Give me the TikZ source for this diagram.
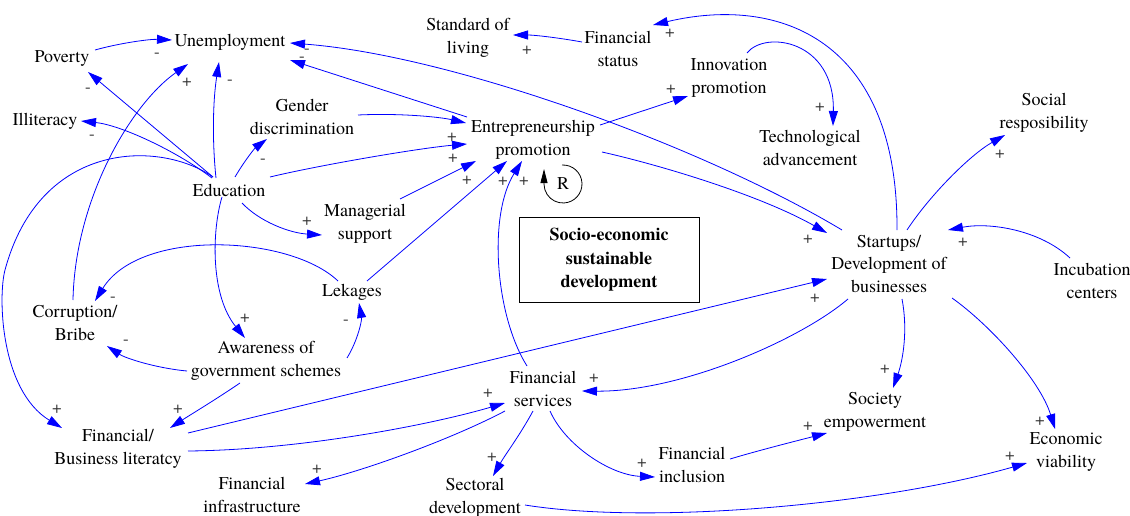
\documentclass[tikz,border=0pt]{standalone}
\usepackage{fontspec}
\setmainfont{texgyretermes}[Extension=.otf,UprightFont=*-regular,BoldFont=*-bold,ItalicFont=*-italic,BoldItalicFont=*-bolditalic]
\usetikzlibrary{arrows.meta,calc}
\begin{document}
\begin{tikzpicture}[x=1pt,y=-1pt,
  lbl/.style={font=\fontsize{18}{22.5}\selectfont, align=center, inner sep=1pt},
  pol/.style={font=\fontsize{17}{17}\selectfont, text=black!80, inner sep=0pt},
  cl/.style={draw=blue, line width=0.8pt, -{Triangle[length=15pt,width=9pt]}},
  boxst/.style={draw, line width=0.8pt, minimum width=180pt, minimum height=85pt, align=center, inner sep=0pt, font=\fontsize{18}{23.5}\selectfont\bfseries}
]
\useasboundingbox (0,0) rectangle (1130,516);
\fill[white] (0,0) rectangle (1130,516);

% nodes
\node[lbl] (un)  at (230,42)  {Unemployment};
\node[lbl] (pov) at (62,59)   {Poverty};
\node[lbl] (ill) at (45,121)  {Illiteracy};
\node[lbl] (gen) at (302,117) {Gender\\discrimination};
\node[lbl] (edu) at (229,190) {Education};
\node[lbl] (man) at (365,224) {Managerial\\support};
\node[lbl] (ent) at (533,140) {Entrepreneurship\\promotion};
\node[lbl] (sol) at (468,38)  {Standard of\\living};
\node[lbl] (fst) at (618,49)  {Financial\\status};
\node[lbl] (inn) at (729,78)  {Innovation\\promotion};
\node[lbl] (tec) at (810,148) {Technological\\advancement};
\node[lbl] (soc) at (1044,113) {Social\\resposibility};
\node[lbl] (stu) at (889,264) {Startups/\\Development of\\businesses};
\node[lbl] (inc) at (1092,281) {Incubation\\centers};
\node[lbl] (lek) at (352,292) {Lekages};
\node[lbl] (cor) at (75,323)  {Corruption/\\Bribe};
\node[lbl] (awa) at (266,361) {Awareness of\\government schemes};
\node[lbl] (fli) at (118,449) {Financial/\\Business literatcy};
\node[lbl] (fin) at (252,495) {Financial\\infrastructure};
\node[lbl] (fse) at (543,389) {Financial\\services};
\node[lbl] (sec) at (475,498) {Sectoral\\development};
\node[lbl] (fic) at (692,465) {Financial\\inclusion};
\node[lbl] (sem) at (875,412) {Society\\empowerment};
\node[lbl] (eco) at (1066,452) {Economic\\viability};
\node[boxst] (box) at (609,260) {Socio-economic\\sustainable\\development};

% connectors
\draw[cl] ($(pov)+(33,-9)$) .. controls (120,43) and (150,39) .. ($(un)+(-58,-2)$);
\draw[cl] ($(edu)+(-16,-13)$) -- ($(pov)+(26,13)$);
\draw[cl] ($(edu)+(-17,-12)$) .. controls (175,150) and (120,125) .. ($(ill)+(36,0)$);
\draw[cl] ($(cor)+(-2,-23)$) .. controls (75,200) and (130,105) .. ($(un)+(-42,22)$);
\draw[cl] ($(edu)+(-13,-12)$) .. controls (212,140) and (213,100) .. ($(un)+(-11,20)$);
\draw[cl] ($(stu)+(-47,-34)$) .. controls (700,145) and (450,55) .. ($(un)+(60,1)$);
\draw[cl] ($(ent)+(-66,-23)$) -- ($(un)+(60,18)$);
\draw[cl] ($(gen)+(56,-2)$) .. controls (400,113) and (440,117) .. ($(ent)+(-67,-17)$);
\draw[cl] ($(edu)+(41,-13)$) .. controls (320,165) and (420,148) .. ($(ent)+(-66,4)$);
\draw[cl] ($(edu)+(6,-13)$) .. controls (245,160) and (255,148) .. ($(gen)+(-35,22)$);
\draw[cl] ($(edu)+(13,13)$) .. controls (260,222) and (290,233) .. ($(man)+(-43,11)$);
\draw[cl] ($(man)+(35,-25)$) -- ($(ent)+(-57,21)$);
\draw[cl] ($(lek)+(15,-11)$) -- ($(ent)+(-26,21)$);
\draw[cl] ($(fse)+(-16,-23)$) .. controls (495,315) and (488,215) .. ($(ent)+(-11,21)$);
\draw[cl] ($(ent)+(67,-15)$) -- ($(inn)+(-41,18)$);
\draw[cl] ($(inn)+(18,-25)$) .. controls (765,30) and (835,40) .. ($(tec)+(23,-22)$);
\draw[cl] ($(fst)+(-36,-7)$) .. controls (560,38) and (535,35) .. ($(sol)+(45,-3)$);
\draw[cl] ($(stu)+(8,-34)$) .. controls (898,40) and (780,-5) .. ($(fst)+(35,-24)$);
\draw[cl] ($(ent)+(69,12)$) .. controls (660,165) and (760,195) .. ($(stu)+(-62,-31)$);
\draw[cl] ($(stu)+(18,-34)$) .. controls (930,195) and (970,155) .. ($(soc)+(-39,22)$);
\draw[cl] ($(inc)+(-22,-23)$) .. controls (1040,230) and (990,222) .. ($(stu)+(59,-34)$);
\draw[cl] ($(fli)+(70,-16)$) -- ($(stu)+(-62,15)$);
\draw[cl] ($(stu)+(-41,35)$) .. controls (800,340) and (680,392) .. ($(fse)+(39,2)$);
\draw[cl] ($(stu)+(13,35)$) .. controls (908,330) and (903,360) .. ($(sem)+(18,-24)$);
\draw[cl] ($(stu)+(63,34)$) .. controls (990,325) and (1040,380) .. ($(eco)+(-11,-23)$);
\draw[cl] ($(fic)+(38,-6)$) .. controls (760,450) and (800,440) .. ($(sem)+(-48,21)$);
\draw[cl] ($(sec)+(50,7)$) .. controls (650,525) and (880,505) .. ($(eco)+(-39,11)$);
\draw[cl] ($(fse)+(7,22)$) .. controls (565,445) and (610,475) .. ($(fic)+(-37,12)$);
\draw[cl] ($(fse)+(-10,22)$) .. controls (520,435) and (505,455) .. ($(sec)+(18,-22)$);
\draw[cl] ($(fli)+(70,2)$) .. controls (300,450) and (430,425) .. ($(fse)+(-38,14)$);
\draw[cl] ($(fse)+(-38,22)$) .. controls (450,440) and (360,472) .. ($(fin)+(53,-11)$);
\draw[cl] ($(awa)+(-26,22)$) .. controls (215,400) and (190,415) .. ($(fli)+(52,-21)$);
\draw[cl] ($(awa)+(-79,10)$) .. controls (155,368) and (125,358) .. ($(cor)+(32,23)$);
\draw[cl] ($(awa)+(81,-3)$) .. controls (358,340) and (362,320) .. ($(lek)+(7,11)$);
\draw[cl] ($(edu)+(-7,7)$) .. controls (212,230) and (210,295) .. ($(awa)+(-21,-23)$);
\draw[cl] ($(lek)+(-14,-11)$) .. controls (290,235) and (140,228) .. ($(cor)+(20,-22)$);
\draw[cl] ($(edu)+(-16,-13)$) .. controls (160,140) and (40,140) .. (5,270)
          .. controls (-2,296) and (0,390) .. ($(fli)+(-56,-21)$);

% loop marker
\begin{scope}[shift={(563,184)}, x=1pt, y=1pt]
  \draw[line width=0.8pt, -{Triangle[length=14pt,width=7pt]}] (93:19) arc[start angle=93, end angle=-180, radius=19] -- ++(0,15);
  \node[lbl] (rr) at (0,0) {R};
\end{scope}

% polarity labels
\node[pol] (l1) at (157,55) {-};
\node[pol] (l2) at (88,90) {-};
\node[pol] (l3) at (92,137) {-};
\node[pol] (l4) at (187,82) {+};
\node[pol] (l5) at (230,82) {-};
\node[pol] (l6) at (307,51) {-};
\node[pol] (l7) at (302,59) {-};
\node[pol] (l8) at (263,161) {-};
\node[pol] (l9) at (307,221) {+};
\node[pol] (l10) at (452,137) {+};
\node[pol] (l11) at (453,158) {+};
\node[pol] (l12) at (467,180) {+};
\node[pol] (l13) at (503,181) {+};
\node[pol] (l14) at (524,181) {+};
\node[pol] (l15) at (527,50) {+};
\node[pol] (l16) at (670,33) {+};
\node[pol] (l17) at (671,89) {+};
\node[pol] (l18) at (820,107) {+};
\node[pol] (l19) at (1000,154) {+};
\node[pol] (l20) at (808,239) {+};
\node[pol] (l21) at (963,242) {+};
\node[pol] (l22) at (815,298) {+};
\node[pol] (l23) at (885,369) {+};
\node[pol] (l24) at (1040,421) {+};
\node[pol] (l25) at (808,426) {+};
\node[pol] (l26) at (1010,456) {+};
\node[pol] (l27) at (594,378) {+};
\node[pol] (l28) at (488,393) {+};
\node[pol] (l29) at (492,457) {+};
\node[pol] (l30) at (642,463) {+};
\node[pol] (l31) at (317,469) {+};
\node[pol] (l32) at (57,409) {+};
\node[pol] (l33) at (178,409) {+};
\node[pol] (l34) at (245,318) {+};
\node[pol] (l35) at (113,299) {-};
\node[pol] (l36) at (126,342) {-};
\node[pol] (l37) at (346,322) {-};
\end{tikzpicture}
\end{document}
